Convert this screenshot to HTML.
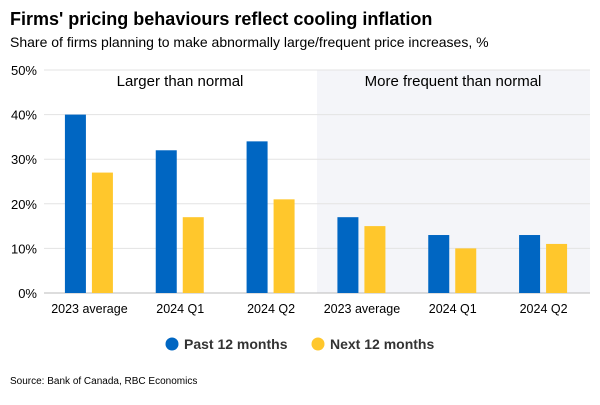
<!DOCTYPE html>
<html><head><meta charset="utf-8"><style>
body{margin:0;background:#fff;font-family:"Liberation Sans",Arial,sans-serif;}
</style></head><body>
<svg id="chart" width="600" height="400" xmlns="http://www.w3.org/2000/svg">
<text x="10" y="25" font-size="18" font-weight="bold" fill="#000">Firms' pricing behaviours reflect cooling inflation</text>
<text x="10" y="47" font-size="14" fill="#000">Share of firms planning to make abnormally large/frequent price increases, %</text>
<rect x="317" y="70" width="273" height="223" fill="#f4f5f9"/>
<g id="grid"></g>
<g id="bars"></g>
<text x="180" y="86" font-size="15" text-anchor="middle">Larger than normal</text>
<text x="453" y="86" font-size="15" text-anchor="middle">More frequent than normal</text>
<g>
<circle cx="172" cy="344" r="6.5" fill="#0066c2"/>
<text x="184" y="349" font-size="14" font-weight="bold" fill="#333">Past 12 months</text>
<circle cx="318" cy="344" r="6.5" fill="#ffc72c"/>
<text x="330" y="349" font-size="14" font-weight="bold" fill="#333">Next 12 months</text>
</g>
<text x="10" y="384" font-size="10" fill="#000">Source: Bank of Canada, RBC Economics</text>
</svg>
<script>
const categories=["2023 average","2024 Q1","2024 Q2","2023 average","2024 Q1","2024 Q2"];
const pastValues=[40,32,34,17,13,13];
const nextValues=[27,17,21,15,10,11];
const yTicks=[0,10,20,30,40,50];
const yTickLabels=["0%","10%","20%","30%","40%","50%"];
const NS="http://www.w3.org/2000/svg";
const x0=45,x1=590,y0=293,y1=70,yMax=50;
const y=v=>y0-(v/yMax)*(y0-y1);
const step=(x1-x0)/categories.length;
const xc=i=>x0+step*(i+0.5);
function mk(t,a,p){const e=document.createElementNS(NS,t);for(const k in a)e.setAttribute(k,a[k]);p.appendChild(e);return e;}
const grid=document.getElementById('grid'),bars=document.getElementById('bars');
yTicks.forEach((t,i)=>{
 const l=mk('line',{x1:44,x2:590,y1:y(t),y2:y(t),stroke:t===0?'#bbb':'#e3e3e3','stroke-width':1},grid);
 
 
 const tx=mk('text',{x:37,y:y(t)+5,'font-size':13,'text-anchor':'end',fill:'#000'},grid);
 tx.textContent=yTickLabels[i];
 
 
});
categories.forEach((c,i)=>{
 const cx=xc(i)-1.5;
 const b1=mk('rect',{x:cx-24,y:y(pastValues[i]),width:21,height:y0-y(pastValues[i]),fill:'#0066c2'},bars);
 
 
 const b2=mk('rect',{x:cx+3,y:y(nextValues[i]),width:21,height:y0-y(nextValues[i]),fill:'#ffc72c'},bars);
 
 
 const t=mk('text',{x:xc(i)-1,y:313,'font-size':12.5,'text-anchor':'middle',fill:'#000'},bars);
 t.textContent=c;
 
 
});
</script>
</body></html>
